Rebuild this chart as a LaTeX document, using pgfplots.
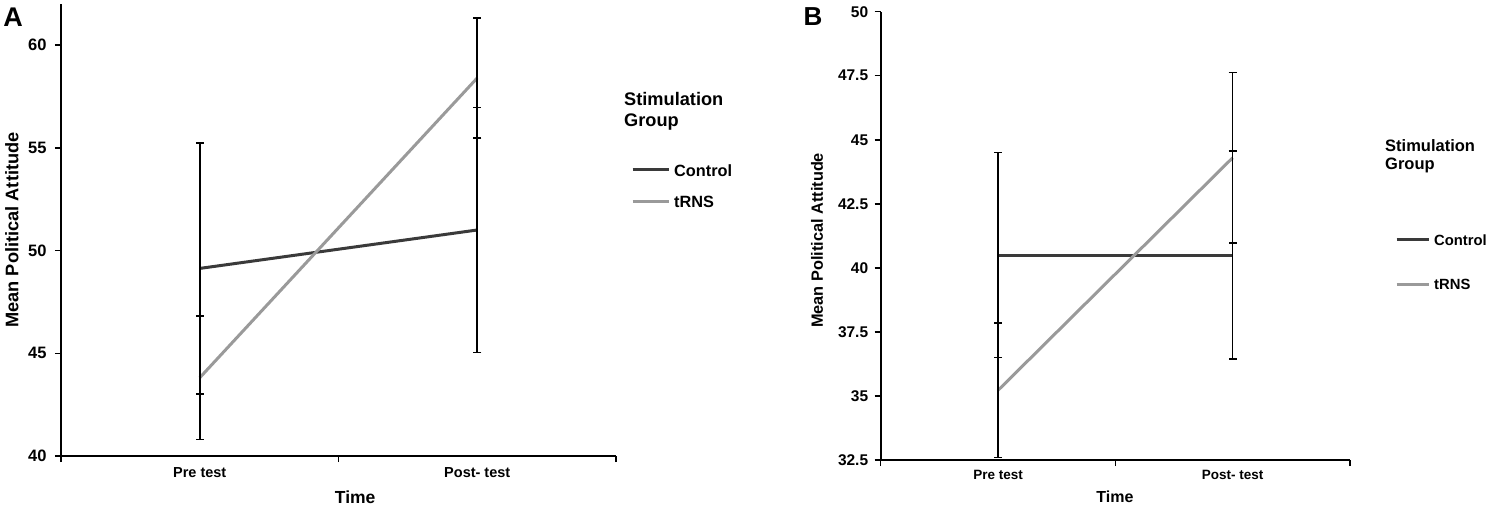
\documentclass[border=0pt]{standalone}
\usepackage{fontspec}
\setmainfont{Liberation Sans}
\usepackage{pgfplots}
\pgfplotsset{compat=1.18}
\definecolor{ctrl}{HTML}{3A3A3A}
\definecolor{trns}{HTML}{9A9A9A}
\pgfplotsset{
  common/.style={
    scale only axis, clip=false,
    axis lines=left, axis line style={-, line width=2.4pt, black},
    xmin=0, xmax=2, xtick={0,1,2}, xticklabels={},
    extra x ticks={0.5,1.5}, extra x tick labels={Pre test,Post- test},
    extra x tick style={major tick length=0pt},
    tick align=outside, major tick length=6pt,
    tick style={black, line width=1.5pt},
    /pgf/number format/assume math mode=true,
  },
  ebars/.style={error bars/.cd, y dir=both, y explicit,
    error bar style={black, line width=1.6pt},
    error mark options={rotate=90, black, line width=1.6pt, mark size=4pt}},
}
\begin{document}
\begin{tikzpicture}
\useasboundingbox (0,0) rectangle (1488pt,506pt);
% Panel A
\begin{axis}[common, at={(61pt,50pt)}, anchor=south west,
  width=555pt, height=452pt, ymin=40, ymax=62,
  ytick={40,45,50,55,60}, yticklabels={40,45,50,55,60},
  yticklabel style={font=\bfseries\fontsize{16.5}{19}\selectfont, xshift=-5pt},
  xticklabel style={font=\bfseries\fontsize{14.5}{17}\selectfont, yshift=-8pt},
  ylabel={Mean Political Attitude},
  ylabel style={font=\bfseries\fontsize{18.2}{21}\selectfont, at={(axis description cs:-0.0883,0.5)}, anchor=center},
  xlabel={Time},
  xlabel style={font=\bfseries\fontsize{17.5}{21}\selectfont, at={(axis description cs:0.53,-0.0907)}, anchor=center},
  legend style={draw=none, fill=none, at={(axis description cs:1.027,0.646)}, anchor=north west,
    inner sep=0pt, row sep=20pt, font=\bfseries\fontsize{16.3}{19}\selectfont,
    nodes={inner sep=0pt, text depth=0pt}, column sep=4pt},
  legend image code/.code={\draw[#1] (0pt,0.5pt) -- (36pt,0.5pt);},
  legend cell align=left,
]
\addplot[ctrl, line width=3pt, ebars] coordinates {(0.5,49.13) +- (0,6.1) (1.5,51.0) +- (0,5.97)};
\addplot[trns, line width=3pt, ebars] coordinates {(0.5,43.81) +- (0,3.0) (1.5,58.4) +- (0,2.93)};
\legend{Control,tRNS}
\end{axis}
\node[anchor=north west, inner sep=0pt, align=left, font=\bfseries\fontsize{18.2}{20.5}\selectfont] at (624pt,413.5pt) {Stimulation\\Group};
\node[anchor=center, inner sep=0pt, font=\bfseries\fontsize{27}{30}\selectfont] at (13pt,488.5pt) {A};
% Panel B
\begin{axis}[common, at={(880.7pt,46pt)}, anchor=south west,
  width=469.3pt, height=448.3pt, ymin=32.5, ymax=50,
  ytick={32.5,35,37.5,40,42.5,45,47.5,50}, yticklabels={32.5,35,37.5,40,42.5,45,47.5,50},
  yticklabel style={font=\bfseries\fontsize{15.5}{18}\selectfont, xshift=-3pt},
  xticklabel style={font=\bfseries\fontsize{13.5}{16}\selectfont, yshift=-6.5pt},
  ylabel={Mean Political Attitude},
  ylabel style={font=\bfseries\fontsize{16.3}{19}\selectfont, at={(axis description cs:-0.1357,0.49)}, anchor=center},
  xlabel={Time},
  xlabel style={font=\bfseries\fontsize{16}{19}\selectfont, at={(axis description cs:0.499,-0.0825)}, anchor=center},
  legend style={draw=none, fill=none, at={(axis description cs:1.0959,0.503)}, anchor=north west,
    inner sep=0pt, row sep=34pt, font=\bfseries\fontsize{14.8}{17}\selectfont,
    nodes={inner sep=0pt, text depth=0pt}, column sep=4pt},
  legend image code/.code={\draw[#1] (-3pt,0.5pt) -- (29pt,0.5pt);},
  legend cell align=left,
]
\addplot[ctrl, line width=3pt, ebars] coordinates {(0.5,40.5) +- (0,4.0) (1.5,40.5) +- (0,4.06)};
\addplot[trns, line width=3pt, ebars] coordinates {(0.5,35.22) +- (0,2.62) (1.5,44.3) +- (0,3.33)};
\legend{Control,tRNS}
\end{axis}
\node[anchor=north west, inner sep=0pt, align=left, font=\bfseries\fontsize{16.5}{18.5}\selectfont] at (1385pt,367pt) {Stimulation\\Group};
\node[anchor=center, inner sep=0pt, font=\bfseries\fontsize{26}{30}\selectfont] at (813pt,489.5pt) {B};
\end{tikzpicture}
\end{document}
